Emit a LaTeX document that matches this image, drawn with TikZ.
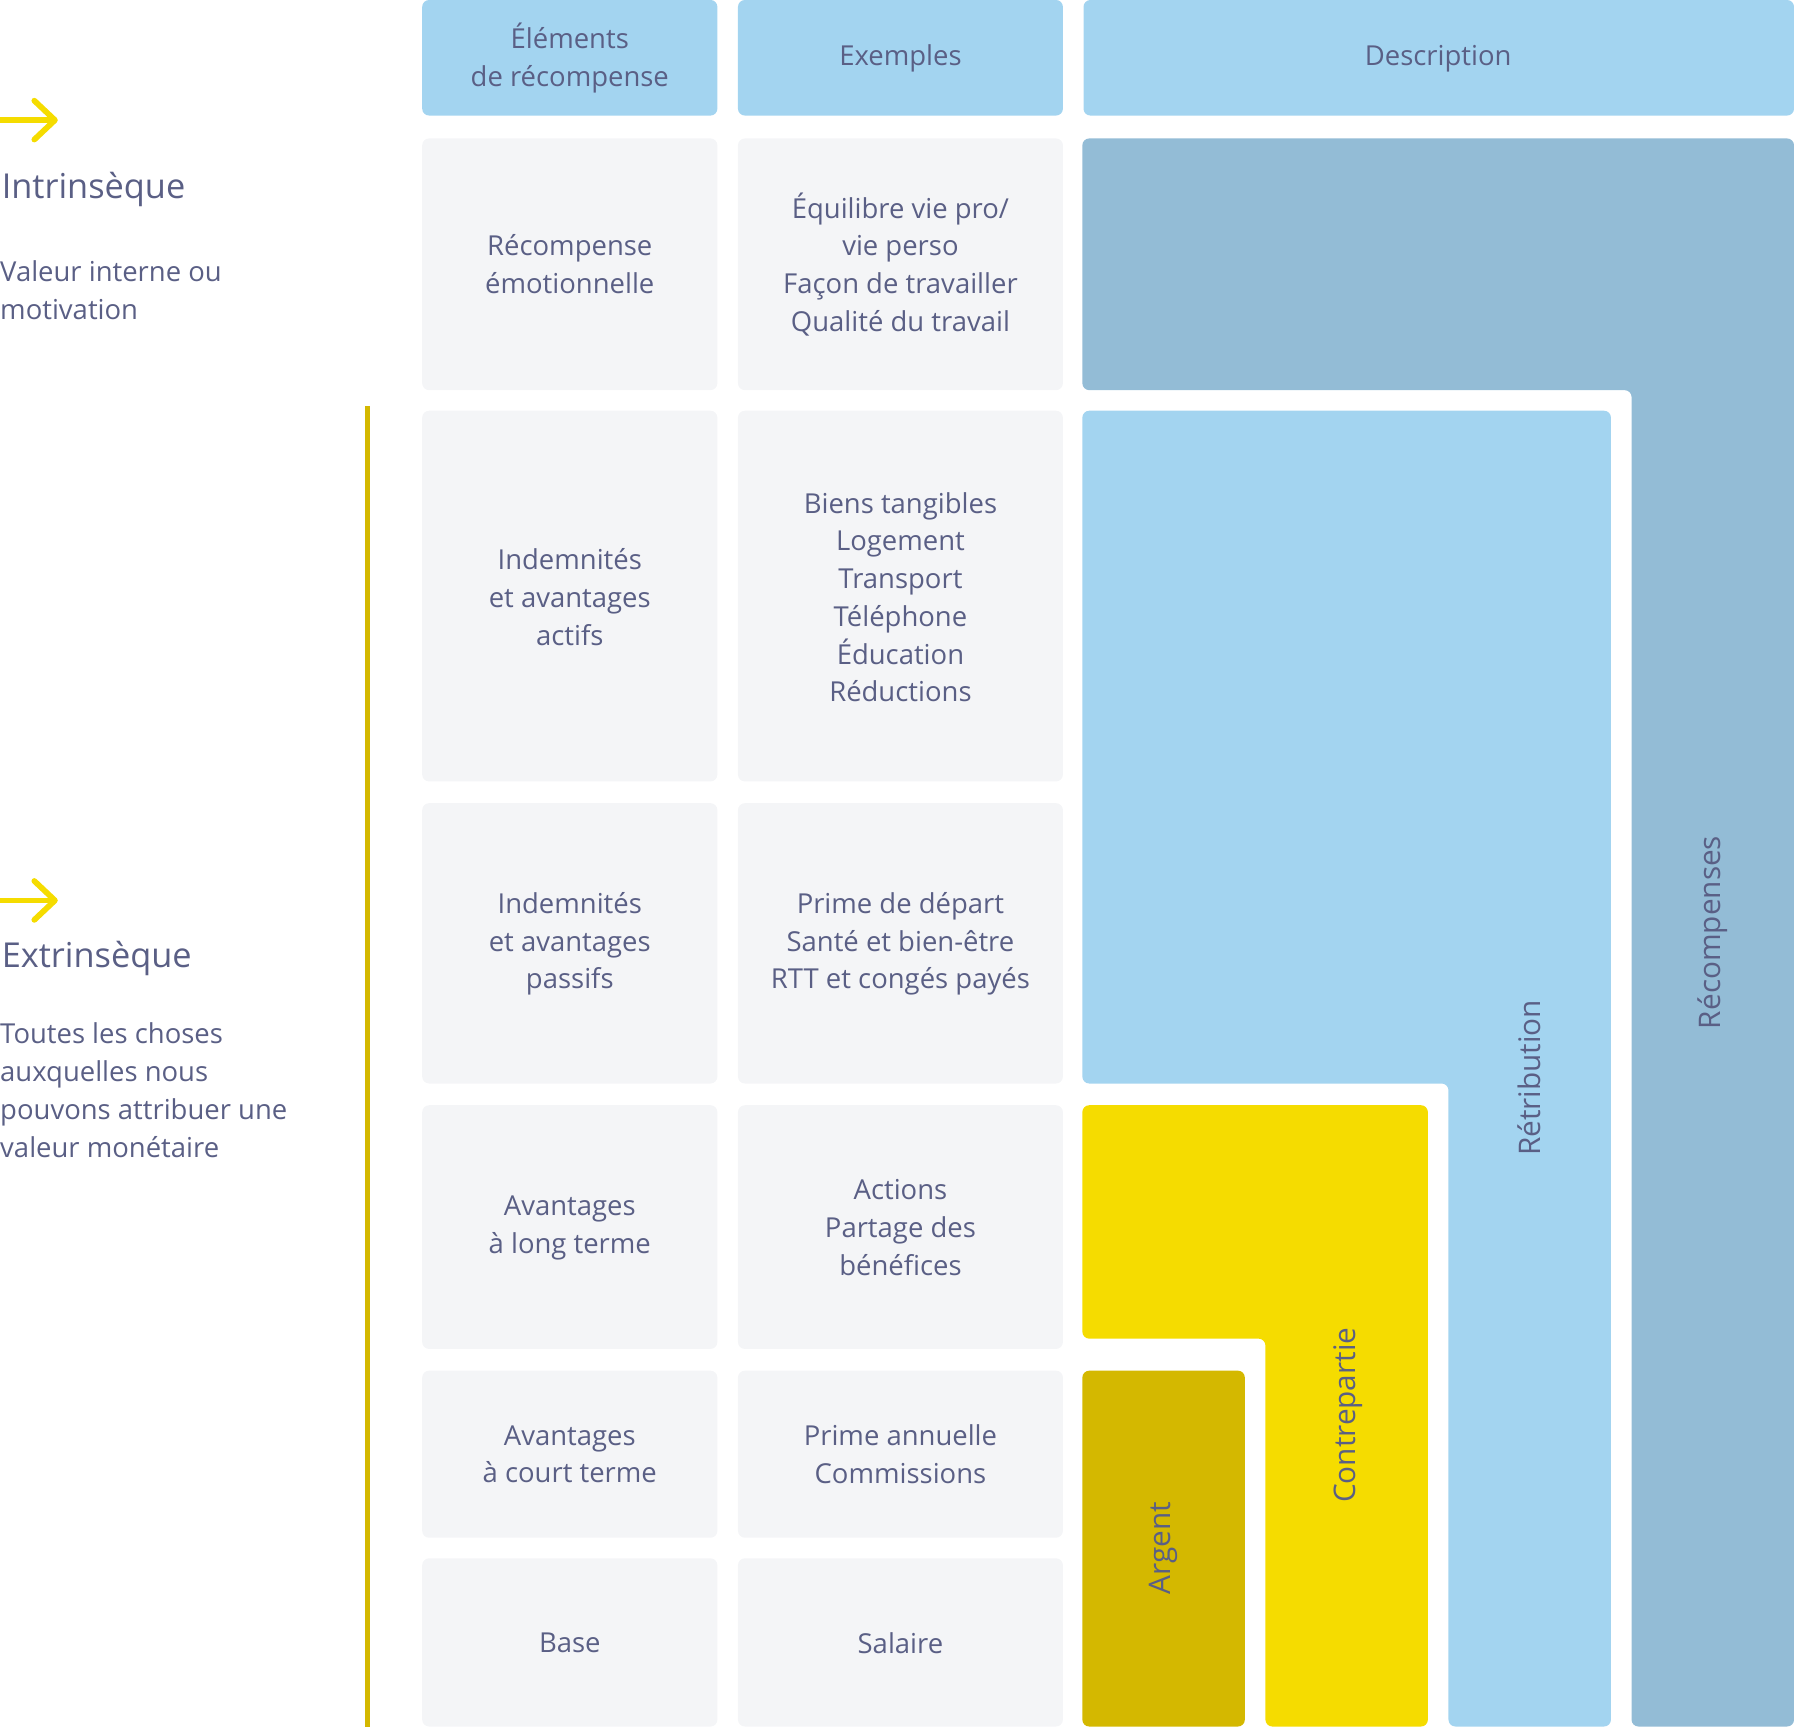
\documentclass[tikz,border=0pt]{standalone}
\usepackage{fontspec}
\setmainfont{Open Sans}
\definecolor{txt}{HTML}{5A5F85}
\definecolor{hdr}{HTML}{A3D4F0}
\definecolor{cell}{HTML}{F4F5F7}
\definecolor{dblue}{HTML}{93BCD6}
\definecolor{yel}{HTML}{F5DC00}
\definecolor{dyel}{HTML}{D4B800}
\begin{document}
\begin{tikzpicture}[x=1pt,y=-1pt,
 box/.style={rounded corners=6pt},
 lab/.style={text=txt,align=center,font=\fontsize{24}{33}\selectfont},
 vlab/.style={text=txt,font=\fontsize{26}{33}\selectfont,rotate=90}]
\useasboundingbox (0,0) rectangle (1568,1511);
% headers
\fill[hdr,box] (369,0) rectangle (627,101);
\fill[hdr,box] (645,0) rectangle (929,101);
\fill[hdr,box] (947,0) rectangle (1568,101);
\node[lab] (h1) at (498,51) {Éléments\\de récompense};
\node[lab] (h2) at (787,51) {Exemples};
\node[lab] (h3) at (1257,51) {Description};
% cells
\foreach \a/\b in {121/341,359/683,702/947,966/1179,1198/1344,1362/1509}{
 \fill[cell,box] (369,\a) rectangle (627,\b);
 \fill[cell,box] (645,\a) rectangle (929,\b);}
\node[lab] (c11) at (498,231) {Récompense\\émotionnelle};
\node[lab] (c12) at (787,231) {Équilibre vie pro/\\vie perso\\Façon de travailler\\Qualité du travail};
\node[lab] (c21) at (498,522) {Indemnités\\et avantages\\actifs};
\node[lab] (c22) at (787,522) {Biens tangibles\\Logement\\Transport\\Téléphone\\Éducation\\Réductions};
\node[lab] (c31) at (498,825) {Indemnités\\et avantages\\passifs};
\node[lab] (c32) at (787,825) {Prime de départ\\Santé et bien-être\\RTT et congés payés};
\node[lab] (c41) at (498,1073) {Avantages\\à long terme};
\node[lab] (c42) at (787,1073) {Actions\\Partage des\\bénéfices};
\node[lab] (c51) at (498,1271) {Avantages\\à court terme};
\node[lab] (c52) at (787,1271) {Prime annuelle\\Commissions};
\node[lab] (c61) at (498,1436) {Base};
\node[lab] (c62) at (787,1436) {Salaire};
% description shapes
\fill[dblue,rounded corners=6pt] (946,121) -- (1568,121) -- (1568,1509) -- (1426,1509) -- (1426,341) -- (946,341) -- cycle;
\fill[hdr,rounded corners=6pt] (946,359) -- (1408,359) -- (1408,1509) -- (1266,1509) -- (1266,947) -- (946,947) -- cycle;
\fill[yel,rounded corners=6pt] (946,966) -- (1248,966) -- (1248,1509) -- (1106,1509) -- (1106,1170) -- (946,1170) -- cycle;
\fill[dyel,box] (946,1198) rectangle (1088,1509);
\node[vlab] (r1) at (1497,815) {Récompenses};
\node[vlab] (r2) at (1337,942) {Rétribution};
\node[vlab] (r3) at (1178,1237) {Contrepartie};
\node[vlab] (r4) at (1017,1353) {Argent};
% left side
\draw[yel,line width=5pt] (0,105) -- (48,105);
\draw[yel,line width=5pt,line cap=round,line join=round] (30,88) -- (48,105) -- (30,122);
\draw[yel,line width=5pt] (0,787) -- (48,787);
\draw[yel,line width=5pt,line cap=round,line join=round] (30,770) -- (48,787) -- (30,804);
\node[text=txt,anchor=west,font=\fontsize{30}{36}\selectfont] (i) at (-2,166) {Intrinsèque};
\node[lab,align=left,anchor=north west,inner sep=0pt] (iv) at (0,228) {Valeur interne ou\\motivation};
\node[text=txt,anchor=west,font=\fontsize{30}{36}\selectfont] (e) at (-2,838) {Extrinsèque};
\node[lab,align=left,anchor=north west,inner sep=0pt] (ev) at (0,894) {Toutes les choses\\auxquelles nous\\pouvons attribuer une\\valeur monétaire};
\draw[dyel,line width=4pt] (321,355) -- (321,1509);
\end{tikzpicture}
\end{document}
